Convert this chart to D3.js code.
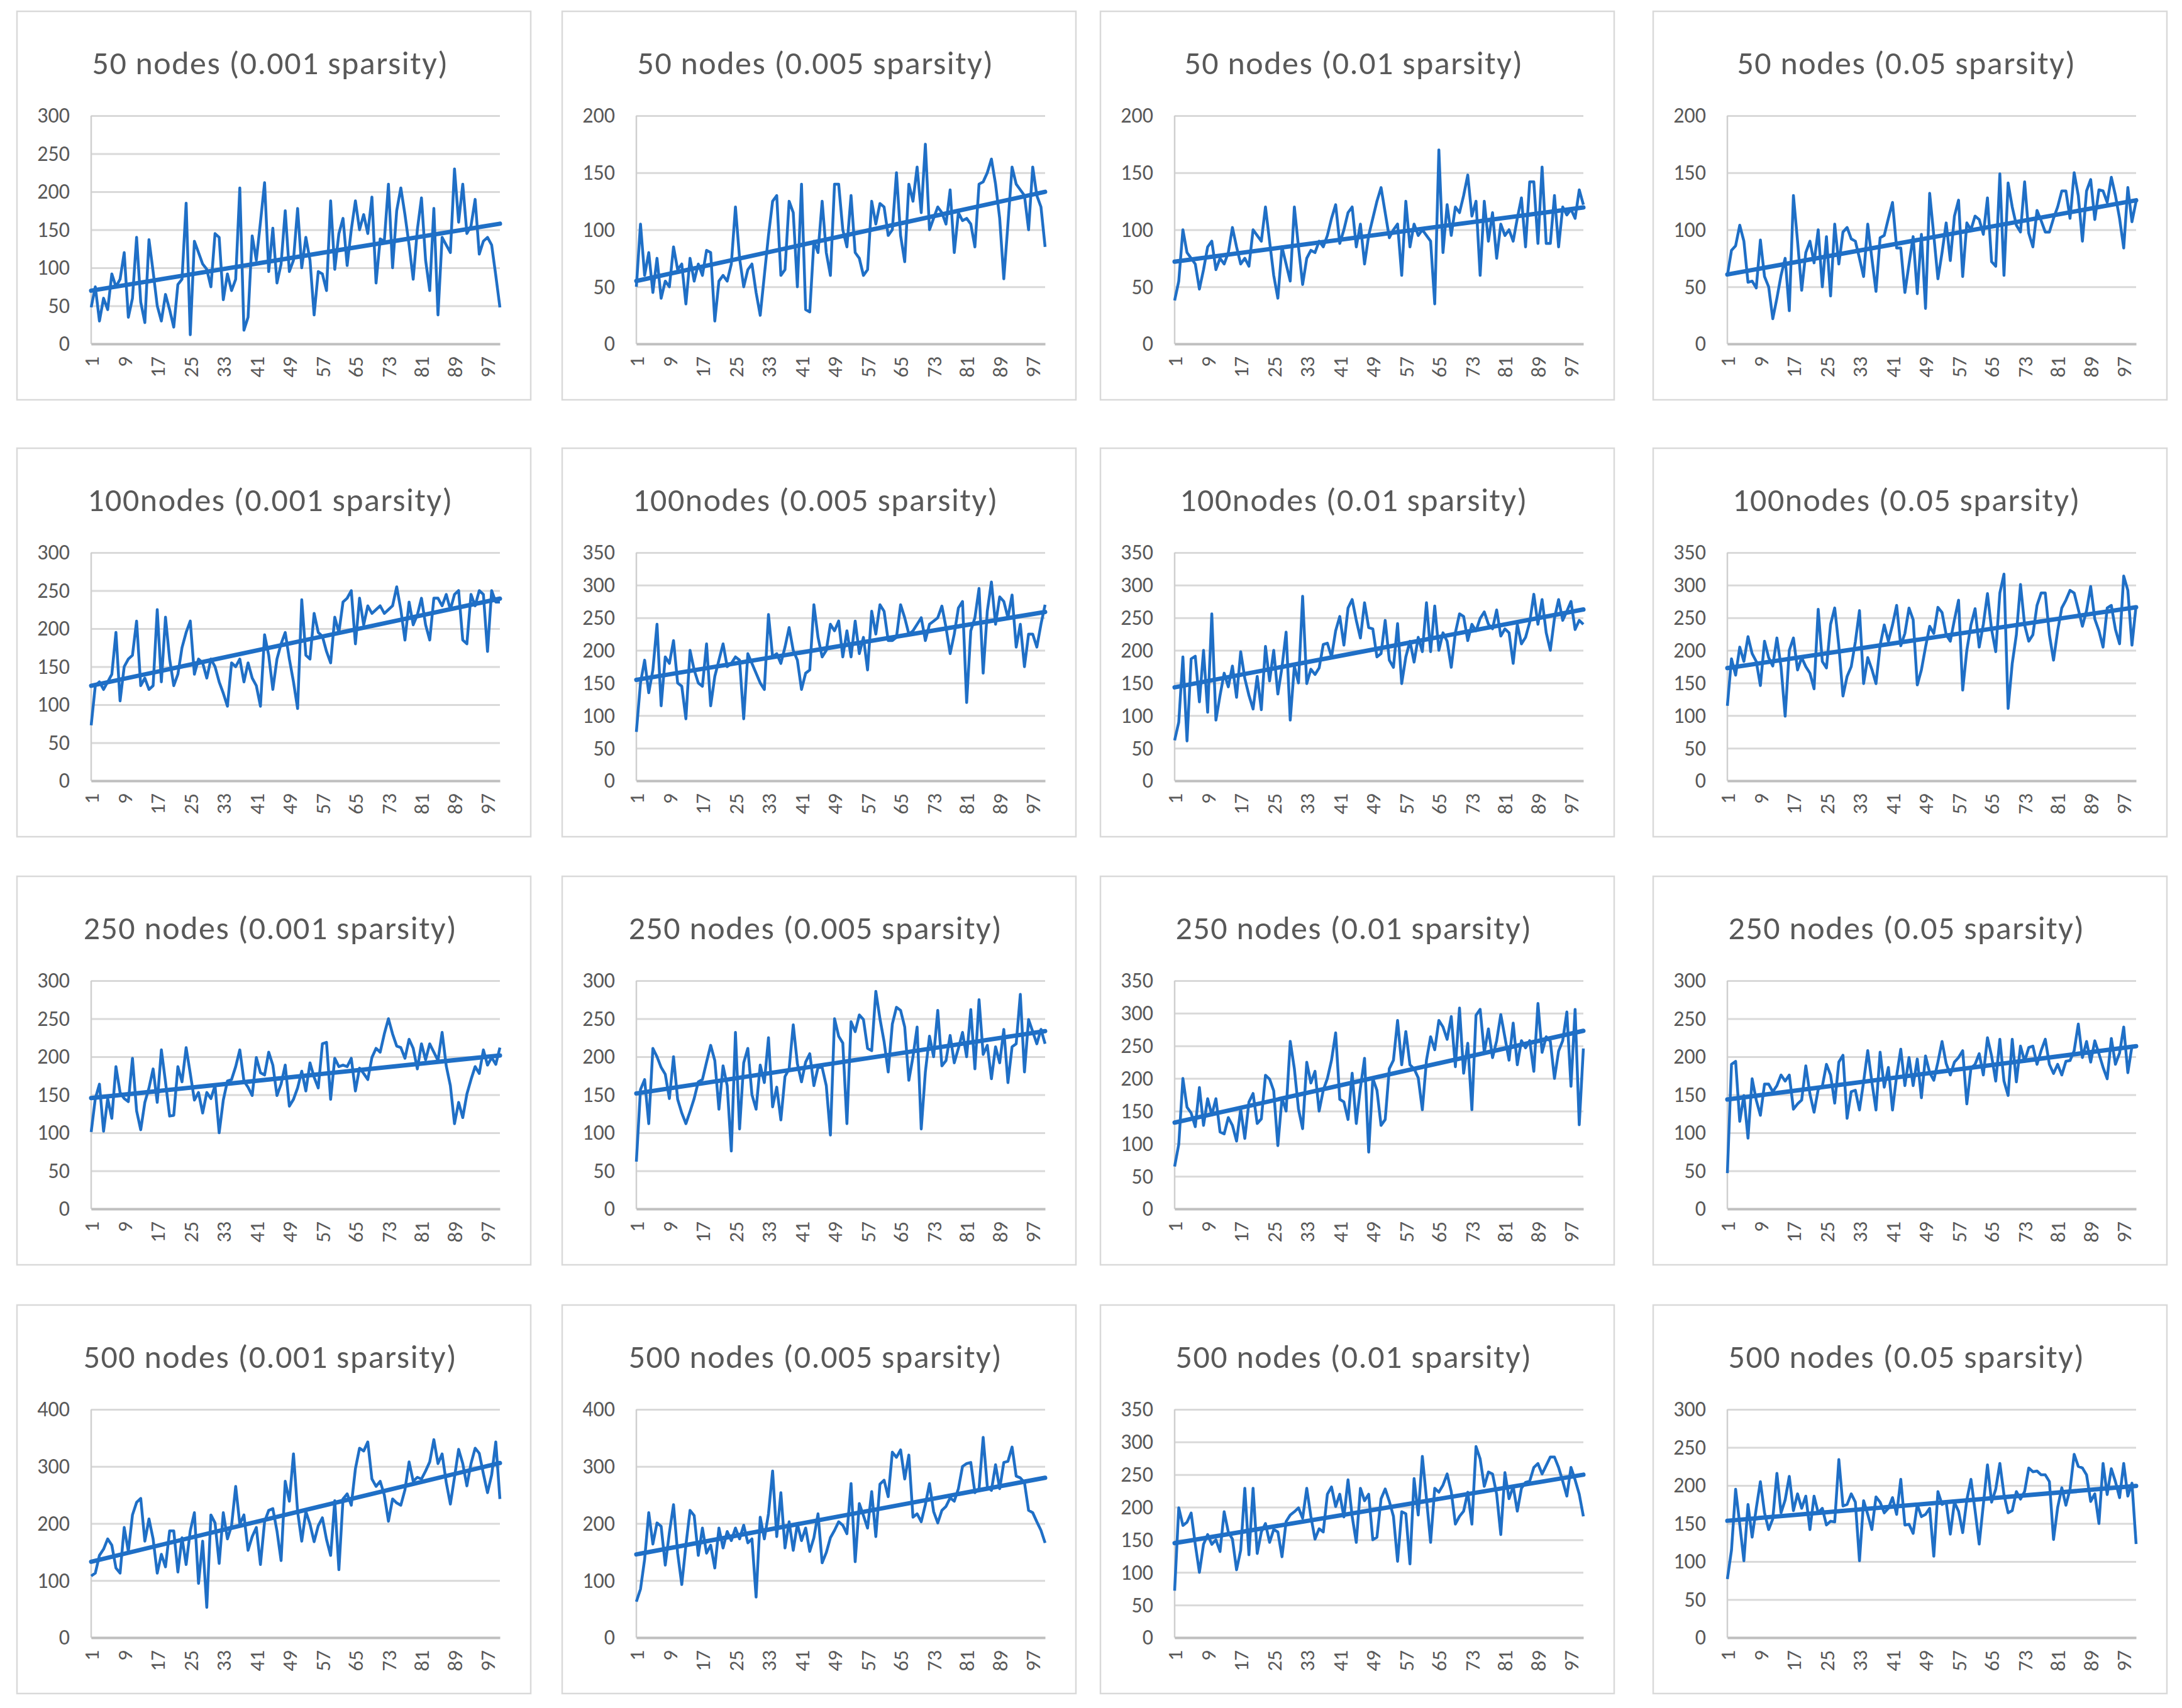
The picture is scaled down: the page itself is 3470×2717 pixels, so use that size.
<!DOCTYPE html>
<html>
<head>
<meta charset="utf-8">
<script src="https://cdn.jsdelivr.net/npm/d3@7"></script>
<style>
  body { margin: 0; background: #fff; }
  svg { display: block; }
  text { font-family: Carlito, Lato, 'Open Sans', sans-serif; fill: #595959; }
</style>
</head>
<body>
<svg id="canvas"></svg>
<script>
// titles, y-axis tops and tick steps, one per panel (row by row)
let titles = [
  '50 nodes (0.001 sparsity)', '50 nodes (0.005 sparsity)', '50 nodes (0.01 sparsity)', '50 nodes (0.05 sparsity)',
  '100nodes (0.001 sparsity)', '100nodes (0.005 sparsity)', '100nodes (0.01 sparsity)', '100nodes (0.05 sparsity)',
  '250 nodes (0.001 sparsity)', '250 nodes (0.005 sparsity)', '250 nodes (0.01 sparsity)', '250 nodes (0.05 sparsity)',
  '500 nodes (0.001 sparsity)', '500 nodes (0.005 sparsity)', '500 nodes (0.01 sparsity)', '500 nodes (0.05 sparsity)'
]
let yMaxes = [300, 200, 200, 200, 300, 350, 350, 350, 300, 300, 350, 300, 400, 400, 350, 300]
let ySteps = [50, 50, 50, 50, 50, 50, 50, 50, 50, 50, 50, 50, 100, 100, 50, 50]
let xTicks = [1, 9, 17, 25, 33, 41, 49, 57, 65, 73, 81, 89, 97]
let runs = d3.range(1, 101)

let n50_001 = [48,75,30,60,45,92,75,85,120,35, 60,140,55,28,137,95,50,30,65,45, 22,78,85,185,12,135,120,105,98,75, 145,140,58,92,70,85,205,18,35,142,
  110,160,212,95,152,80,105,175,95,110, 178,100,140,110,38,95,92,70,188,98, 145,165,103,150,188,150,170,145,193,80,
  138,135,210,100,175,205,170,130,85,150, 192,110,70,178,38,140,130,120,230,160, 210,145,155,190,118,135,140,130,90,48]
let n50_005 = [50,105,60,80,45,75,40,55,50,85, 65,70,35,75,55,70,60,82,80,20, 55,60,55,70,120,75,50,65,70,45, 25,60,95,125,130,60,65,125,115,50,
  140,30,28,90,80,125,80,60,140,140, 100,85,130,80,75,60,65,125,105,123, 120,95,100,150,95,72,140,125,155,115,
  175,100,110,120,115,105,135,80,115,108, 110,105,85,140,142,150,162,140,110,57, 105,155,140,135,130,100,155,130,120,85]
let n50_01 = [38,55,100,80,75,70,48,65,85,90, 65,75,70,80,102,85,70,75,68,100, 95,90,120,90,60,40,85,70,55,120, 85,52,75,82,80,90,85,95,110,122,
  88,100,115,120,85,105,70,95,110,125, 137,115,93,100,105,60,125,85,105,95, 100,95,90,35,170,80,122,95,120,115,
  130,148,112,125,60,125,90,115,75,105, 95,100,90,110,128,85,142,142,88,155, 88,88,130,85,120,113,118,110,135,122]
let n50_05 = [60,82,86,104,90,54,55,49,91,59, 50,22,40,60,75,29,130,90,47,80, 90,71,100,50,94,42,105,70,98,102, 92,90,75,59,105,75,46,93,95,110,
  124,84,84,45,70,94,44,96,31,132, 95,57,80,106,73,112,126,59,106,100, 112,109,96,128,72,68,149,60,141,120,
  104,98,142,97,85,117,108,98,98,110, 120,134,134,110,150,130,90,134,144,109, 135,134,124,146,130,110,84,137,107,125]

let n100_001 = [73,125,130,120,130,140,195,105,150,160, 165,210,125,135,120,125,225,130,215,160, 125,140,175,195,210,140,160,155,135,160,
  150,130,115,98,155,150,160,130,155,135, 125,98,192,165,120,160,180,195,160,130, 95,238,165,160,220,195,190,170,155,215,
  195,235,240,250,180,240,205,230,220,225, 230,220,225,230,255,225,185,235,205,218, 240,205,185,240,240,230,245,225,245,250,
  185,180,245,230,250,245,170,250,235,235]
let n100_005 = [75,150,185,135,170,240,115,190,180,215, 150,145,95,200,170,150,145,210,115,160, 185,210,175,180,190,185,95,195,180,165,
  150,140,255,190,195,180,205,235,200,185, 140,165,170,270,220,190,200,240,230,245, 190,230,190,245,195,220,170,260,225,270,
  260,215,215,220,270,250,225,230,240,250, 215,240,245,250,268,235,195,225,265,275, 120,230,250,295,165,260,305,240,282,275,
  250,285,205,240,175,225,225,205,240,270]
let n100_01 = [62,90,190,61,187,191,121,200,105,256, 93,131,165,144,176,128,198,157,131,110, 160,109,206,153,200,133,174,228,93,176,
  150,283,149,171,163,173,209,211,190,230, 252,208,265,278,246,219,273,235,233,190, 195,246,185,174,241,149,190,214,182,220,
  198,273,198,268,200,227,214,174,227,256, 252,215,240,230,249,259,240,233,262,222, 233,227,180,240,210,220,243,286,240,278,
  227,200,249,278,246,260,275,232,246,240]
let n100_05 = [115,187,162,205,183,221,195,183,146,214, 189,176,219,175,99,200,219,170,189,175, 165,141,263,183,173,240,265,207,130,160,
  175,213,261,149,189,171,149,208,239,214, 239,269,207,226,265,247,147,170,205,237, 226,266,258,224,214,247,277,139,200,239,
  264,205,240,287,232,198,288,317,111,180, 224,301,239,214,224,269,288,288,224,185, 230,265,277,292,288,263,237,261,298,248,
  230,205,265,269,232,210,314,292,208,269]

let n250_001 = [101,145,164,102,145,119,187,153,145,141, 198,129,104,140,159,184,140,209,167,122, 123,187,167,212,178,143,153,126,153,145,
  162,100,143,168,170,187,209,168,160,149, 199,179,176,206,189,149,164,189,135,144, 159,181,155,192,173,159,217,219,144,198,
  187,189,187,198,155,185,178,170,199,211, 206,230,250,230,214,212,198,223,211,184, 217,196,217,206,195,232,188,162,112,140,
  120,151,170,187,178,209,189,199,190,212]
let n250_005 = [62,157,170,112,211,200,186,177,145,200, 144,126,112,128,145,167,170,193,215,195, 131,188,162,76,232,105,192,211,150,131,
  189,166,225,134,160,117,174,184,242,191, 167,193,204,162,186,186,162,97,250,227, 218,112,246,233,255,249,211,208,286,250,
  220,180,243,265,261,239,169,200,239,105, 180,227,200,261,188,195,228,192,211,232, 200,262,184,275,203,215,171,213,192,236,
  166,213,217,282,180,249,233,217,236,217]
let n250_01 = [65,99,200,156,147,126,186,128,169,144, 169,118,115,140,128,104,153,108,164,177, 131,138,205,199,181,97,170,150,257,215,
  153,123,225,193,211,150,182,200,228,270, 168,164,137,208,131,186,231,87,200,182, 128,137,215,228,289,221,272,221,215,201,
  152,228,264,244,289,279,260,295,218,308, 208,254,152,297,306,240,276,232,258,298, 263,228,285,221,258,247,258,211,315,240,
  264,257,200,242,258,302,188,306,129,246]
let n250_05 = [47,190,194,115,149,93,171,143,123,164, 164,154,162,176,168,176,131,138,143,188, 151,127,157,161,190,176,139,193,202,119,
  154,156,130,167,208,167,130,206,160,186, 130,175,210,162,199,162,197,146,201,179, 169,193,220,191,176,193,199,208,138,185,
  190,204,176,225,201,168,223,168,149,223, 167,214,194,212,214,190,208,223,190,178, 190,176,194,195,208,243,199,220,193,221,
  204,186,171,224,190,205,239,179,214,213]

let n500_001 = [108,113,144,155,173,162,122,113,193,151, 215,237,244,169,208,173,113,146,124,187, 187,115,175,128,187,219,95,169,53,215,
  201,130,219,173,196,265,199,215,153,177, 193,128,203,223,226,187,135,274,239,322, 221,169,221,199,168,196,210,172,144,240,
  119,243,252,232,296,332,327,343,278,265, 274,250,204,243,236,232,259,308,274,281, 278,292,308,347,305,322,272,234,281,330,
  305,266,305,332,323,287,254,285,343,243]
let n500_005 = [63,85,137,219,164,201,195,127,184,233, 148,93,162,223,214,144,192,148,162,122, 192,157,186,170,192,173,197,166,173,71,
  211,173,217,292,177,254,157,203,153,199, 170,192,151,175,217,131,149,175,188,203, 197,182,270,133,235,214,192,256,177,269,
  276,247,325,316,329,278,320,211,217,203, 233,270,221,201,223,230,245,239,261,300, 305,307,254,261,351,265,258,303,261,307,
  309,334,283,280,272,223,219,203,188,166]
let n500_01 = [72,199,172,177,191,143,100,143,158,143, 150,132,193,162,151,104,134,229,127,229, 129,162,175,146,166,162,124,178,188,193,
  199,183,229,186,151,167,162,220,231,201, 220,185,242,186,146,229,210,220,150,154, 213,228,209,186,117,193,190,113,244,188,
  278,213,146,229,223,234,251,224,174,186, 194,223,174,293,274,232,254,251,220,158, 253,213,232,194,229,238,240,261,267,251,
  264,277,277,261,240,217,261,242,220,186]
let n500_05 = [77,115,195,149,101,175,132,170,205,164, 142,156,216,164,181,212,167,189,170,186, 142,186,164,170,148,153,152,234,173,175,
  189,178,101,180,162,142,185,178,164,170, 184,162,208,148,149,137,175,159,162,170, 107,192,175,178,136,178,166,138,181,208,
  167,123,175,227,178,195,229,188,164,167, 192,182,192,223,218,219,214,214,205,129, 171,197,174,195,241,225,223,214,179,189,
  150,229,188,222,205,184,229,186,203,123]

let allSeries = [
  n50_001, n50_005, n50_01, n50_05,
  n100_001, n100_005, n100_01, n100_05,
  n250_001, n250_005, n250_01, n250_05,
  n500_001, n500_005, n500_01, n500_05
]

let width = 3470
let height = 2717
let colLeft = [27, 894, 1750, 2629]
let rowTop = [18, 713, 1394, 2076]
let panelW = 817
let panelH = 618
let plot = { left: 118, top: 166, width: 650, height: 363 }
let blue = '#1f6fc6'

let canvas = d3.select('#canvas').attr('width', width).attr('height', height)

// least squares line through (run, value)
let fitTrend = (values) => {
  let xMean = d3.mean(runs)
  let yMean = d3.mean(values)
  let num = d3.sum(values, (v, i) => (runs[i] - xMean) * (v - yMean))
  let den = d3.sum(runs, (r) => (r - xMean) * (r - xMean))
  let slope = num / den
  return [runs[0], runs[runs.length - 1]].map((r) => [r, yMean + slope * (r - xMean)])
}

let drawPanel = (values, idx) => {
  let g = canvas.append('g')
    .attr('transform', `translate(${colLeft[idx % 4]},${rowTop[Math.floor(idx / 4)]})`)

  g.append('rect')
    .attr('width', panelW)
    .attr('height', panelH)
    .attr('fill', '#fff')
    .attr('stroke', '#d9d9d9')
    .attr('stroke-width', 2.5)

  g.append('text')
    .attr('x', 403)
    .attr('y', 100)
    .attr('text-anchor', 'middle')
    .style('font-size', '52px')
    .style('letter-spacing', '1.5px')
    .text(titles[idx])

  let xScale = d3.scalePoint().domain(runs).range([plot.left, plot.left + plot.width])
  let yScale = d3.scaleLinear().domain([0, yMaxes[idx]]).range([plot.top + plot.height, plot.top])

  // y axis with gridlines
  let yAxis = g.append('g')
    .attr('transform', `translate(${plot.left},0)`)
    .call(d3.axisLeft(yScale)
      .tickValues(d3.range(0, yMaxes[idx] + 1, ySteps[idx]))
      .tickSize(-plot.width)
      .tickPadding(34))
  yAxis.select('.domain').remove()
  yAxis.selectAll('line').attr('stroke', '#d9d9d9').attr('stroke-width', 3)
  yAxis.selectAll('text').style('font-size', '34px').attr('fill', '#595959')

  // left axis line
  g.append('line')
    .attr('x1', plot.left).attr('x2', plot.left)
    .attr('y1', plot.top).attr('y2', plot.top + plot.height)
    .attr('stroke', '#cfcfcf')
    .attr('stroke-width', 2.5)

  // x axis, labels rotated
  let xAxis = g.append('g')
    .attr('transform', `translate(0,${plot.top + plot.height})`)
    .call(d3.axisBottom(xScale).tickValues(xTicks).tickSize(0).tickSizeOuter(0))
  xAxis.select('.domain').attr('stroke', '#bfbfbf').attr('stroke-width', 4)
  xAxis.selectAll('text')
    .attr('transform', 'rotate(-90)')
    .attr('x', -20)
    .attr('y', 0)
    .attr('dy', '0.35em')
    .attr('text-anchor', 'end')
    .style('font-size', '33px')
    .attr('fill', '#595959')

  let line = d3.line()
    .x((d, i) => xScale(runs[i]))
    .y((d) => yScale(d))

  g.append('path')
    .datum(values)
    .attr('d', line)
    .attr('fill', 'none')
    .attr('stroke', blue)
    .attr('stroke-width', 4.5)
    .attr('stroke-linejoin', 'round')

  g.append('path')
    .datum(fitTrend(values))
    .attr('d', d3.line().x((d) => xScale(d[0])).y((d) => yScale(d[1])))
    .attr('fill', 'none')
    .attr('stroke', blue)
    .attr('stroke-width', 7)
    .attr('stroke-linecap', 'round')
}

allSeries.forEach((values, idx) => drawPanel(values, idx))
</script>
</body>
</html>
